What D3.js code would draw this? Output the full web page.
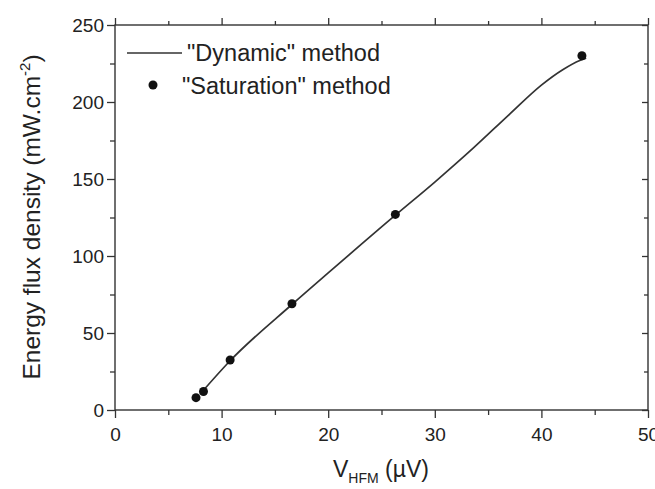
<!DOCTYPE html>
<html>
<head>
<meta charset="utf-8">
<script src="https://cdn.jsdelivr.net/npm/d3@7"></script>
<style>
  body { margin: 0; background: #fff; }
  text { font-family: "Liberation Sans", Arial, sans-serif; fill: #222; }
</style>
</head>
<body>
<svg id="chart" width="655" height="489"></svg>
<script>
// "Saturation" method points
var satX = [7.6, 8.3, 10.8, 16.6, 26.3, 43.8];
var satY = [8, 12, 32.5, 69, 127, 230];

// "Dynamic" method curve
var dynX = [8.0, 10.8, 16.6, 20, 26.3, 30, 33.6, 37, 40, 42, 43.6, 44.2];
var dynY = [10.5, 32, 68.5, 89, 126.5, 148, 170, 192, 211, 221, 227, 228.5];

var xTicks = [0, 10, 20, 30, 40, 50];
var yTicks = [0, 50, 100, 150, 200, 250];

var svg = d3.select("#chart");
var plotLeft = 115, plotRight = 648, plotTop = 25, plotBottom = 410;

var x = d3.scaleLinear().domain([0, 50]).range([plotLeft, plotRight]);
var y = d3.scaleLinear().domain([0, 250]).range([plotBottom, plotTop]);

var axisColor = "#333";

// frame
svg.append("rect")
    .attr("x", plotLeft).attr("y", plotTop)
    .attr("width", plotRight - plotLeft).attr("height", plotBottom - plotTop)
    .attr("fill", "none").attr("stroke", axisColor).attr("stroke-width", 1.4);

function styleAxis(g) {
    g.select(".domain").remove();
    g.selectAll(".tick line").attr("stroke", axisColor).attr("stroke-width", 1.3);
    g.selectAll(".tick text").attr("font-size", 19).attr("fill", "#2a2a2a");
}

var xMinor = d3.range(5, 50, 10);
var yMinor = d3.range(25, 250, 50);

// bottom
svg.append("g").attr("transform", `translate(0,${plotBottom})`)
    .call(d3.axisBottom(x).tickValues(xTicks).tickSize(8).tickPadding(10).tickFormat(d3.format("d")))
    .call(styleAxis);
svg.append("g").attr("transform", `translate(0,${plotBottom})`)
    .call(d3.axisBottom(x).tickValues(xMinor).tickSize(5).tickFormat(""))
    .call(styleAxis);
// top
svg.append("g").attr("transform", `translate(0,${plotTop})`)
    .call(d3.axisTop(x).tickValues(xTicks).tickSize(7).tickFormat(""))
    .call(styleAxis);
svg.append("g").attr("transform", `translate(0,${plotTop})`)
    .call(d3.axisTop(x).tickValues(xMinor).tickSize(4).tickFormat(""))
    .call(styleAxis);
// left
svg.append("g").attr("transform", `translate(${plotLeft},0)`)
    .call(d3.axisLeft(y).tickValues(yTicks).tickSize(8).tickPadding(3).tickFormat(d3.format("d")))
    .call(styleAxis);
svg.append("g").attr("transform", `translate(${plotLeft},0)`)
    .call(d3.axisLeft(y).tickValues(yMinor).tickSize(5).tickFormat(""))
    .call(styleAxis);
// right
svg.append("g").attr("transform", `translate(${plotRight},0)`)
    .call(d3.axisLeft(y).tickValues(yTicks).tickSize(6).tickFormat(""))
    .call(styleAxis);
svg.append("g").attr("transform", `translate(${plotRight},0)`)
    .call(d3.axisLeft(y).tickValues(yMinor).tickSize(4).tickFormat(""))
    .call(styleAxis);

// dynamic curve
var line = d3.line()
    .x(function(d) { return x(d[0]); })
    .y(function(d) { return y(d[1]); })
    .curve(d3.curveMonotoneX);

svg.append("path")
    .datum(d3.zip(dynX, dynY))
    .attr("d", line)
    .attr("fill", "none")
    .attr("stroke", "#333")
    .attr("stroke-width", 1.7);

// saturation points
svg.selectAll(".pt")
    .data(d3.zip(satX, satY))
    .enter()
    .append("circle")
    .attr("class", "pt")
    .attr("cx", function(d) { return x(d[0]); })
    .attr("cy", function(d) { return y(d[1]); })
    .attr("r", 4.5)
    .attr("fill", "#111");

// legend
var legend = svg.append("g");
legend.append("line")
    .attr("x1", 127).attr("x2", 182).attr("y1", 53).attr("y2", 53)
    .attr("stroke", "#333").attr("stroke-width", 1.7);
legend.append("text").attr("x", 187).attr("y", 61)
    .attr("font-size", 23.5).text('"Dynamic" method');
legend.append("circle").attr("cx", 153).attr("cy", 85).attr("r", 4.5).attr("fill", "#111");
legend.append("text").attr("x", 182).attr("y", 94)
    .attr("font-size", 23.5).text('"Saturation" method');

// axis titles
var xt = svg.append("text")
    .attr("x", 381).attr("y", 477)
    .attr("text-anchor", "middle")
    .attr("font-size", 23);
xt.append("tspan").text("V");
xt.append("tspan").attr("font-size", 14).attr("dy", 6).text("HFM");
xt.append("tspan").attr("dy", -6).text(" (µV)");

var yt = svg.append("text")
    .attr("transform", "translate(40,217) rotate(-90)")
    .attr("text-anchor", "middle")
    .attr("font-size", 24.5);
yt.append("tspan").text("Energy flux density (mW.cm");
yt.append("tspan").attr("font-size", 15).attr("dy", -10).text("-2");
yt.append("tspan").attr("dy", 10).text(")");
</script>
</body>
</html>
